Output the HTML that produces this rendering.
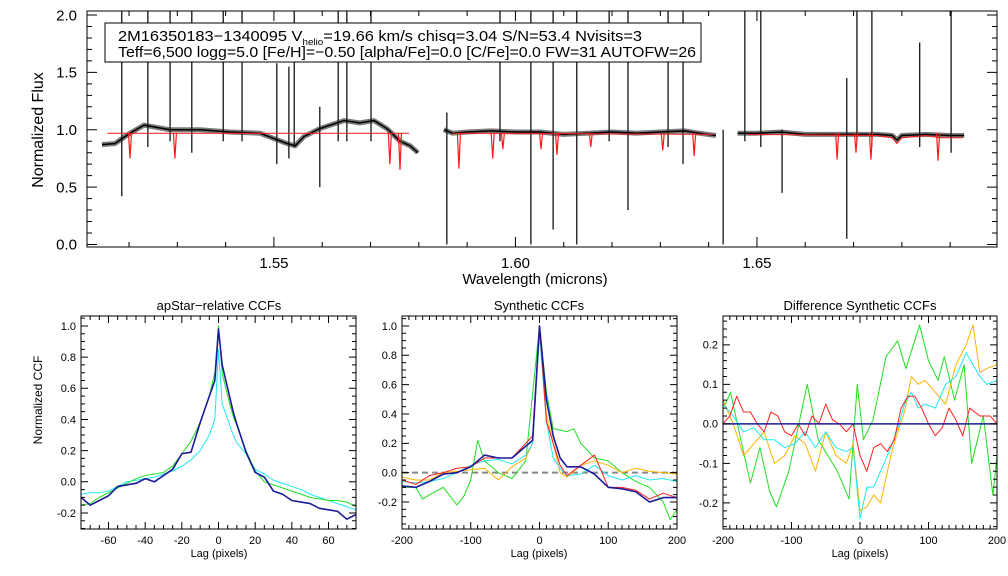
<!DOCTYPE html>
<html><head><meta charset="utf-8"><style>
html,body{margin:0;padding:0;background:#fff;}
svg{display:block;font-family:"Liberation Sans",sans-serif;}
</style></head><body>
<svg id="fig" width="1008" height="576" viewBox="0 0 1008 576" xmlns="http://www.w3.org/2000/svg">
<rect x="0" y="0" width="1008" height="576" fill="#fff"/>
</svg>
<script>
// ---------- Top spectrum data ----------
const specW = [1.5144,1.5171,1.5202,1.5231,1.5285,1.5347,1.5409,1.5471,1.5502,1.5527,1.5544,1.5562,1.5595,1.5645,1.5678,1.5707,1.5734,1.5761,1.5782,1.5798, null,
 1.5852,1.5870,1.5900,1.5950,1.6000,1.6050,1.6100,1.6150,1.6200,1.6250,1.6300,1.6350,1.6380,1.6415, null,
 1.6460,1.6500,1.6550,1.6600,1.6650,1.6700,1.6750,1.6780,1.6790,1.6800,1.6850,1.6900,1.6929];
const specF = [0.87,0.88,0.97,1.04,1.00,1.00,0.98,0.97,0.92,0.88,0.86,0.94,1.01,1.08,1.06,1.08,1.01,0.90,0.86,0.80, null,
 1.00,0.97,0.98,0.99,0.98,0.98,0.96,0.97,0.98,0.97,0.98,0.99,0.97,0.95, null,
 0.97,0.97,0.98,0.96,0.96,0.96,0.96,0.95,0.91,0.95,0.96,0.95,0.95];
const spikeW  = [1.5185,1.5239,1.5285,1.5330,1.5395,1.5434,1.5506,1.5531,1.5542,1.5595,1.5633,1.5651,1.5701,1.5858,1.5968,1.6032,1.6078,1.6127,1.6194,1.6233,1.6347,1.6316,1.6430,1.6475,1.6508,1.6552,1.6686,1.6707,1.6738,1.6837,1.6902];
const spikeLo = [0.42,0.85,0.90,0.80,0.90,0.90,0.70,0.75,0.85,0.50,0.90,0.90,0.90,0.00,0.90,0.00,0.13,0.00,0.90,0.30,0.70,0.85,0.00,0.90,0.85,0.45,0.05,0.90,0.85,0.85,0.80];
const spikeHi = [2.10,2.10,2.10,2.10,2.10,2.10,1.58,1.55,2.10,1.20,2.10,2.10,2.10,1.15,2.10,2.10,2.10,2.10,2.10,2.10,2.10,2.10,1.00,2.10,2.10,1.00,1.45,2.10,2.10,1.76,2.10];
const modelW = [1.5155,1.5780,null,1.5870,1.6410,null,1.6480,1.6750,1.6780,1.6790,1.6800,1.6850,1.6880,1.6925];
const modelF = [0.97,0.97,null,0.97,0.96,null,0.96,0.95,0.93,0.88,0.93,0.95,0.93,0.93];
const dipW = [1.5202,1.5295,1.5740,1.5761,1.5883,1.5953,1.5974,1.6053,1.6086,1.6156,1.6305,1.6370,1.6666,1.6705,1.6736,1.6875];
const dipF = [0.75,0.75,0.70,0.65,0.66,0.75,0.83,0.83,0.78,0.85,0.82,0.77,0.74,0.80,0.74,0.73];

// ---------- CCF panel 1 ----------
const lag1 = [-75,-70,-65,-60,-55,-50,-45,-40,-35,-30,-25,-20,-15,-10,-5,-2,0,2,5,8,10,15,20,25,30,35,40,45,50,55,60,65,70,75];
const p1Navy = [-0.10,-0.15,-0.12,-0.09,-0.03,-0.02,-0.01,0.02,0.00,0.04,0.08,0.18,0.19,0.38,0.55,0.65,0.98,0.75,0.60,0.45,0.37,0.19,0.06,0.03,-0.06,-0.08,-0.12,-0.13,-0.14,-0.17,-0.18,-0.19,-0.24,-0.21];
const p1Green = [-0.15,-0.14,-0.10,-0.07,-0.04,-0.01,0.02,0.04,0.05,0.06,0.10,0.18,0.26,0.38,0.55,0.70,1.00,0.70,0.55,0.42,0.36,0.20,0.07,0.00,-0.02,-0.04,-0.06,-0.08,-0.10,-0.11,-0.12,-0.12,-0.13,-0.16];
const p1Cyan = [-0.08,-0.07,-0.07,-0.06,-0.03,0.00,0.01,0.02,0.03,0.05,0.07,0.10,0.14,0.20,0.30,0.40,0.85,0.50,0.40,0.30,0.25,0.18,0.08,0.05,0.01,-0.01,-0.03,-0.05,-0.08,-0.10,-0.12,-0.14,-0.16,-0.18];

// ---------- CCF panel 2 ----------
const lag2 = [-200,-180,-160,-140,-120,-100,-80,-60,-40,-20,-10,0,10,20,30,40,60,80,100,120,140,160,180,200];
const p2Navy = [-0.09,-0.10,-0.06,-0.01,0.00,0.04,0.12,0.10,0.10,0.18,0.22,1.00,0.50,0.25,0.10,0.04,0.04,-0.01,-0.10,-0.11,-0.13,-0.20,-0.17,-0.17];
const p2Red = [-0.05,-0.08,-0.02,0.00,0.03,0.04,0.10,0.10,0.10,0.20,0.25,1.00,0.35,0.20,0.05,-0.02,0.05,0.12,-0.10,-0.10,-0.12,-0.18,-0.14,-0.17];
const p2Orange = [-0.03,-0.05,-0.05,0.00,0.01,0.02,0.03,-0.05,0.04,0.10,0.20,0.98,0.40,0.20,0.00,-0.03,0.05,0.08,0.05,0.00,0.03,0.01,0.00,-0.01];
const p2Cyan = [-0.06,-0.07,-0.06,-0.04,0.00,0.05,0.08,0.09,0.06,0.12,0.20,0.95,0.35,0.10,0.03,-0.02,-0.01,0.05,-0.02,-0.05,-0.02,-0.05,-0.04,-0.06];
const lag2g = [-200,-180,-170,-160,-140,-120,-110,-100,-90,-80,-60,-40,-20,0,10,20,40,50,60,80,100,120,140,160,180,190,200];
const p2Green = [-0.10,-0.10,-0.18,-0.15,-0.10,-0.22,-0.16,-0.05,0.22,0.08,0.00,-0.04,0.08,1.00,0.55,0.30,0.28,0.30,0.20,0.10,0.08,0.00,-0.06,-0.10,-0.20,-0.32,-0.25];

// ---------- CCF panel 3 ----------
const lag3g = [-198,-189,-174,-160,-146,-132,-122,-104,-77,-61,-33,-16,-4,5,19,38,55,67,87,100,114,123,138,152,163,180,194,200];
const p3Green = [0.044,0.08,-0.04,-0.15,-0.06,-0.17,-0.21,-0.12,0.10,-0.04,-0.12,-0.19,0.10,-0.04,0.01,0.17,0.21,0.14,0.25,0.16,0.11,0.17,0.06,0.15,-0.10,0.02,-0.18,-0.08];
const lag3 = [-200,-185,-170,-155,-140,-125,-110,-95,-80,-65,-50,-35,-20,-10,0,10,20,30,45,55,65,75,85,95,110,125,140,155,165,175,185,200];
const p3Orange = [0.06,0.00,-0.08,-0.05,-0.02,-0.10,-0.08,-0.03,-0.05,-0.12,-0.02,-0.08,-0.10,-0.05,-0.22,-0.21,-0.18,-0.20,-0.08,-0.02,0.03,0.12,0.10,0.11,0.08,0.05,0.15,0.20,0.25,0.13,0.14,0.15];
const p3Cyan = [0.05,0.02,-0.02,-0.01,-0.04,-0.04,-0.06,-0.05,-0.02,-0.06,-0.02,-0.06,-0.07,-0.06,-0.24,-0.16,-0.16,-0.12,-0.06,-0.01,0.05,0.08,0.04,0.05,0.04,0.10,0.12,0.18,0.15,0.12,0.10,0.11];
const lag3r = [-200,-190,-180,-170,-160,-150,-140,-130,-120,-110,-100,-90,-80,-70,-60,-50,-40,-30,-20,-10,0,10,20,30,40,50,60,70,80,90,100,110,120,130,140,150,160,175,190,200];
const p3Red = [0.00,0.02,0.07,0.03,0.03,0.00,-0.02,0.03,0.02,-0.02,-0.03,0.00,-0.03,0.02,0.00,0.05,0.01,0.00,-0.02,0.00,-0.08,-0.12,-0.06,-0.05,-0.07,-0.04,0.04,0.07,0.07,0.04,0.00,-0.03,-0.01,0.04,0.01,-0.03,0.04,0.02,0.02,0.00];
const p3NavyLag = [-200,200];
const p3Navy = [0,0];

const NS = 'http://www.w3.org/2000/svg';
const fig = document.getElementById('fig');
function mk(tag, attrs, parent) {
  const e = document.createElementNS(NS, tag);
  for (const k in attrs) e.setAttribute(k, attrs[k]);
  (parent || fig).appendChild(e);
  return e;
}
function axes(px0, px1, py0, py1, x0, x1, y0, y1) {
  return {
    sx: v => px0 + (v - x0) / (x1 - x0) * (px1 - px0),
    sy: v => py1 - (v - y0) / (y1 - y0) * (py1 - py0),
    px0, px1, py0, py1, x0, x1, y0, y1
  };
}
function ticks(g, ax, xMaj, xMin, yMaj, yMin, lenMaj, lenMin, xFmt, yFmt, fs, xLabY, yLabX) {
  const eps = 1e-9;
  let d = '';
  const xs = Math.ceil((ax.x0 - eps) / xMin) * xMin;
  for (let v = xs; v <= ax.x1 + eps; v += xMin) {
    const isMaj = Math.abs(v / xMaj - Math.round(v / xMaj)) < 1e-6;
    const L = isMaj ? lenMaj : lenMin, x = ax.sx(v).toFixed(2);
    d += `M${x} ${ax.py1}v${-L}M${x} ${ax.py0}v${L}`;
  }
  const ys = Math.ceil((ax.y0 - eps) / yMin) * yMin;
  for (let v = ys; v <= ax.y1 + eps; v += yMin) {
    const isMaj = Math.abs(v / yMaj - Math.round(v / yMaj)) < 1e-6;
    const L = isMaj ? lenMaj : lenMin, y = ax.sy(v).toFixed(2);
    d += `M${ax.px0} ${y}h${L}M${ax.px1} ${y}h${-L}`;
  }
  const tp = mk('path', {d: d, stroke: '#000', 'stroke-width': 1, fill: 'none'}, g);
  
  
  const xl = Math.ceil((ax.x0 - eps) / xMaj) * xMaj;
  for (let v = xl; v <= ax.x1 + eps; v += xMaj) {
    const t = mk('text', {x: ax.sx(v), y: xLabY, 'font-size': fs, 'text-anchor': 'middle'}, g);
    
    
    t.textContent = xFmt(v);
  }
  const yl = Math.ceil((ax.y0 - eps) / yMaj) * yMaj;
  for (let v = yl; v <= ax.y1 + eps; v += yMaj) {
    const t = mk('text', {x: yLabX, y: ax.sy(v) + fs * 0.35, 'font-size': fs, 'text-anchor': 'end'}, g);
    
    
    t.textContent = yFmt(v);
  }
}
function linePath(ax, xs, ys) {
  let d = '', pen = false;
  for (let i = 0; i < xs.length; i++) {
    if (xs[i] === null || ys[i] === null) { pen = false; continue; }
    d += (pen ? 'L' : 'M') + ax.sx(xs[i]).toFixed(2) + ' ' + ax.sy(ys[i]).toFixed(2);
    pen = true;
  }
  return d;
}
function series(g, ax, xs, ys, color, w, name) {
  const p = mk('path', {d: linePath(ax, xs, ys), stroke: color, 'stroke-width': w, fill: 'none', 'stroke-linejoin': 'round'}, g);
  
  
  return p;
}
function frame(g, ax) {
  const r = mk('rect', {x: ax.px0, y: ax.py0, width: ax.px1 - ax.px0, height: ax.py1 - ax.py0, fill: 'none', stroke: '#000', 'stroke-width': 1}, g);
  
  
}
function clip(id, ax) {
  const c = mk('clipPath', {id: id});
  mk('rect', {x: ax.px0, y: ax.py0, width: ax.px1 - ax.px0, height: ax.py1 - ax.py0}, c);
}
function label(g, txt, x, y, fs, name, rot) {
  const t = mk('text', {x: x, y: y, 'font-size': fs, 'text-anchor': 'middle'}, g);
  if (rot) t.setAttribute('transform', `rotate(-90 ${x} ${y})`);
  
  
  t.textContent = txt;
  return t;
}
const f1 = v => v.toFixed(1), f2 = v => v.toFixed(2), f0 = v => String(Math.round(v));

// ===== Top panel =====
const gTop = mk('g', {});


const axT = axes(87, 997, 11, 247, 1.5113, 1.6997, -0.022, 2.035);
clip('clipT', axT);
const gTd = mk('g', {'clip-path': 'url(#clipT)'}, gTop);
let sd = '';
for (let i = 0; i < spikeW.length; i++) {
  const x = axT.sx(spikeW[i]).toFixed(2);
  sd += `M${x} ${axT.sy(spikeLo[i]).toFixed(2)}V${axT.sy(spikeHi[i]).toFixed(2)}`;
}
const sp = mk('path', {d: sd, stroke: '#000', 'stroke-width': 1.2, fill: 'none'}, gTd);


series(gTd, axT, specW, specF, '#222', 5, 'observed-spectrum-band').setAttribute('stroke-opacity', '0.6');
series(gTd, axT, specW, specF, '#000', 1.5, 'observed-spectrum');
series(gTd, axT, modelW, modelF, '#ff1a1a', 1, 'model-spectrum');
let dd = '';
for (let i = 0; i < dipW.length; i++) {
  const x = axT.sx(dipW[i]), y0 = axT.sy(0.97), y1 = axT.sy(dipF[i]);
  dd += `M${(x - 1.5).toFixed(2)} ${y0.toFixed(2)}L${x.toFixed(2)} ${y1.toFixed(2)}L${(x + 1.5).toFixed(2)} ${y0.toFixed(2)}`;
}
const dp = mk('path', {d: dd, stroke: '#ff1a1a', 'stroke-width': 1.2, fill: 'none'}, gTd);


frame(gTop, axT);
ticks(gTop, axT, 0.05, 0.01, 0.5, 0.1, 10, 5, f2, f1, 15, 268, 77);
label(gTop, 'Wavelength (microns)', 535, 284, 15, 'x-axis-title');
label(gTop, 'Normalized Flux', 43, 130, 16, 'y-axis-title', true);
const ib = mk('rect', {x: 105, y: 23, width: 596, height: 39, fill: '#fff', stroke: '#000', 'stroke-width': 1}, gTop);


const t1 = mk('text', {x: 118, y: 41, 'font-size': 15}, gTop);


t1.innerHTML = '2M16350183\u22121340095  V<tspan font-size="9" dy="4">helio</tspan><tspan dy="-4">=19.66 km/s  chisq=3.04  S/N=53.4  Nvisits=3</tspan>';
t1.setAttribute('xml:space', 'preserve');
t1.setAttribute('textLength', '524');
t1.setAttribute('lengthAdjust', 'spacingAndGlyphs');
const t2 = mk('text', {x: 118, y: 57, 'font-size': 15, textLength: 578, lengthAdjust: 'spacingAndGlyphs'}, gTop);


t2.textContent = 'Teff=6,500 logg=5.0 [Fe/H]=\u22120.50 [alpha/Fe]=0.0 [C/Fe]=0.0 FW=31 AUTOFW=26';

// ===== Panel 1 =====
const g1 = mk('g', {});


const ax1 = axes(81, 356, 316, 529, -75, 75, -0.303, 1.064);
clip('clip1', ax1);
const g1d = mk('g', {'clip-path': 'url(#clip1)'}, g1);
series(g1d, ax1, lag1, p1Cyan, '#22e8f0', 1, 'ccf-cyan');
series(g1d, ax1, lag1, p1Green, '#22dd22', 1, 'ccf-green');
series(g1d, ax1, lag1, p1Navy, '#1a1a9a', 1.6, 'ccf-navy');
frame(g1, ax1);
ticks(g1, ax1, 20, 5, 0.2, 0.05, 7, 4, f0, f1, 11, 544, 76);
label(g1, 'apStar\u2212relative CCFs', 219, 310, 13, 'panel-title');
label(g1, 'Lag (pixels)', 219, 557, 11, 'x-axis-title');
label(g1, 'Normalized CCF', 42, 400, 12, 'y-axis-title', true);

// ===== Panel 2 =====
const g2 = mk('g', {});


const ax2 = axes(402, 677, 316, 529, -200, 200, -0.384, 1.068);
clip('clip2', ax2);
const g2d = mk('g', {'clip-path': 'url(#clip2)'}, g2);
const zl = mk('line', {x1: ax2.px0, x2: ax2.px1, y1: ax2.sy(0), y2: ax2.sy(0), stroke: '#888', 'stroke-width': 2, 'stroke-dasharray': '6,4'}, g2d);


series(g2d, ax2, lag2g, p2Green, '#22dd22', 1, 'ccf-green');
series(g2d, ax2, lag2, p2Orange, '#ffb300', 1, 'ccf-orange');
series(g2d, ax2, lag2, p2Cyan, '#22e8f0', 1, 'ccf-cyan');
series(g2d, ax2, lag2, p2Red, '#ff2020', 1, 'ccf-red');
series(g2d, ax2, lag2, p2Navy, '#1a1a9a', 1.6, 'ccf-navy');
frame(g2, ax2);
ticks(g2, ax2, 100, 10, 0.2, 0.05, 7, 4, f0, f1, 11, 544, 397);
label(g2, 'Synthetic CCFs', 539, 310, 13, 'panel-title');
label(g2, 'Lag (pixels)', 539, 557, 11, 'x-axis-title');

// ===== Panel 3 =====
const g3 = mk('g', {});


const ax3 = axes(723, 997, 316, 529, -200, 200, -0.266, 0.273);
clip('clip3', ax3);
const g3d = mk('g', {'clip-path': 'url(#clip3)'}, g3);
series(g3d, ax3, lag3g, p3Green, '#22dd22', 1, 'diff-green');
series(g3d, ax3, lag3, p3Orange, '#ffb300', 1, 'diff-orange');
series(g3d, ax3, lag3, p3Cyan, '#22e8f0', 1, 'diff-cyan');
series(g3d, ax3, lag3r, p3Red, '#ff2020', 1, 'diff-red');
series(g3d, ax3, p3NavyLag, p3Navy, '#1a1a9a', 1.6, 'diff-navy');
frame(g3, ax3);
ticks(g3, ax3, 100, 10, 0.1, 0.02, 7, 4, f0, f1, 11, 544, 718);
label(g3, 'Difference Synthetic CCFs', 860, 310, 13, 'panel-title');
label(g3, 'Lag (pixels)', 860, 557, 11, 'x-axis-title');
</script>
</body></html>
